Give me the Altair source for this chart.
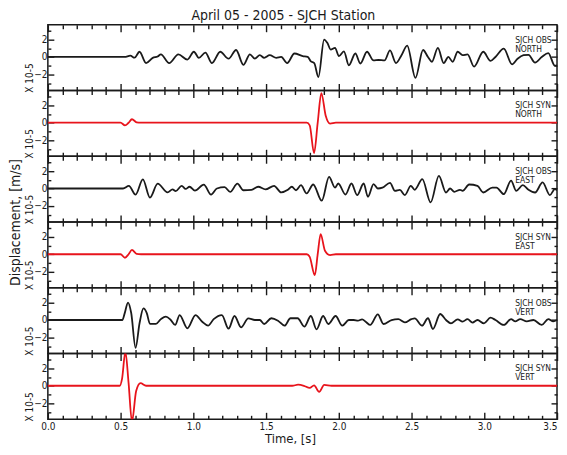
import altair as alt
import pandas as pd

FONT = "Liberation Sans Narrow, DejaVu Sans Condensed, sans-serif"
INK = "#1a1a1a"
RED = "#e8141c"

# ---------------- data ----------------
obs_north_t = [0.0, 0.528, 0.567, 0.596, 0.630, 0.675, 0.721, 0.755, 0.777, 0.834, 0.897, 0.959,
               1.004, 1.038, 1.083, 1.128, 1.185, 1.242, 1.294, 1.344, 1.389, 1.423, 1.457, 1.487,
               1.525, 1.570, 1.604, 1.645, 1.695, 1.752, 1.786, 1.808, 1.831, 1.860, 1.899, 1.922,
               1.944, 1.974, 2.001, 2.035, 2.069, 2.114, 2.148, 2.194, 2.239, 2.273, 2.314, 2.352,
               2.393, 2.431, 2.470, 2.527, 2.579, 2.613, 2.640, 2.681, 2.721, 2.753, 2.783, 2.817,
               2.851, 2.885, 2.930, 2.993, 3.043, 3.077, 3.134, 3.191, 3.229, 3.270, 3.304, 3.349,
               3.395, 3.440, 3.485, 3.500]
obs_north_v = [0.0, 0.0, 0.15, -0.08, 0.6, -0.7, -0.1, 0.05, 0.3, -0.7, 0.3, -0.3,
               0.6, -0.1, 0.5, -0.7, 0.6, -0.2, 0.8, -0.9, 0.3, -0.2, 0.2, -0.1,
               0.2, -0.1, 0.0, -0.7, 0.4, 0.1, 0.0, -0.5, -0.7, -2.3, 2.0, 1.6,
               0.85, 1.05, 0.1, 0.65, -0.95, 0.4, -0.75, 0.6, -0.4, -0.35, -0.4, 0.75,
               -0.7, 0.2, 1.3, -2.4, 0.8, 0.0, -0.55, 1.05, -0.7, 0.0, -0.55, 0.6,
               0.2, 0.3, -1.1, 0.6, -0.45, 0.0, 0.95, -0.85, -0.2, 0.2, 0.25, -0.65,
               0.0, 0.45, -1.0, -0.95]

syn_north_t = [0.0, 0.50, 0.53, 0.555, 0.578, 0.61, 0.64, 1.78, 1.80, 1.83, 1.855, 1.88, 1.91, 1.94, 1.98, 3.5]
syn_north_v = [0.0, 0.0, -0.3, 0.0, 0.4, 0.05, 0.0, 0.0, -0.3, -3.5, 0.0, 3.4, 0.8, -0.1, 0.0, 0.0]

obs_east_t = [0.0, 0.517, 0.557, 0.603, 0.653, 0.702, 0.755, 0.823, 0.857, 0.879, 0.920, 0.947,
              0.974, 1.011, 1.072, 1.122, 1.162, 1.215, 1.253, 1.303, 1.344, 1.400, 1.446, 1.496,
              1.555, 1.604, 1.650, 1.677, 1.706, 1.740, 1.779, 1.824, 1.883, 1.933, 1.974, 1.996,
              2.046, 2.087, 2.126, 2.171, 2.200, 2.239, 2.268, 2.300, 2.352, 2.386, 2.420, 2.454,
              2.495, 2.522, 2.574, 2.631, 2.688, 2.737, 2.765, 2.794, 2.833, 2.851, 2.896, 2.953,
              2.993, 3.055, 3.084, 3.134, 3.184, 3.220, 3.265, 3.304, 3.349, 3.401, 3.451, 3.485,
              3.500]
obs_east_v = [0.0, 0.0, 0.3, -0.7, 1.05, -1.05, 0.55, -0.45, -0.1, -0.3, 0.3, -0.05,
              0.2, -0.25, 0.45, -0.7, 0.0, 0.15, -0.4, 0.55, -0.2, -0.15, 0.2, -0.1,
              0.3, -0.45, -0.15, 0.2, -0.2, 0.38, -0.57, 0.46, -1.4, 1.33, 0.1, 0.57,
              -0.69, 0.57, -0.76, 0.57, -0.95, 0.5, 0.0, 0.1, 0.65, -0.27, -0.15, -0.76,
              0.3, -0.15, 1.07, -1.6, 1.45, -0.46, 0.0, -0.38, -0.15, -0.27, 0.46, 0.3,
              -0.46, 0.1, 0.1, -0.65, 0.91, -0.27, 0.38, -0.15, -0.46, 0.69, -0.76, -0.08,
              -0.2]

syn_east_t = [0.0, 0.50, 0.53, 0.555, 0.578, 0.61, 0.64, 1.78, 1.80, 1.835, 1.855, 1.875, 1.905, 1.94, 1.98, 3.5]
syn_east_v = [0.0, 0.0, -0.4, 0.0, 0.5, 0.05, 0.0, 0.0, -0.3, -2.4, 0.0, 2.3, 0.4, -0.1, 0.0, 0.0]

obs_vert_t = [0.0, 0.512, 0.528, 0.551, 0.573, 0.603, 0.630, 0.657, 0.680, 0.702, 0.743, 0.777,
              0.811, 0.845, 0.875, 0.906, 0.959, 1.015, 1.061, 1.101, 1.140, 1.196, 1.242, 1.283,
              1.328, 1.378, 1.423, 1.457, 1.487, 1.536, 1.582, 1.627, 1.668, 1.717, 1.763, 1.808,
              1.847, 1.892, 1.928, 1.978, 2.024, 2.069, 2.103, 2.132, 2.160, 2.187, 2.216, 2.268,
              2.307, 2.363, 2.409, 2.454, 2.499, 2.522, 2.572, 2.613, 2.647, 2.697, 2.737, 2.771,
              2.817, 2.851, 2.885, 2.919, 2.953, 2.998, 3.043, 3.077, 3.134, 3.184, 3.213, 3.247,
              3.292, 3.338, 3.395, 3.440, 3.474, 3.500]
obs_vert_v = [0.0, 0.0, 0.76, 2.0, 0.8, -3.2, -0.4, 1.33, 0.8, -0.45, -0.45, 0.1,
              0.4, 0.0, -0.57, 0.57, -0.95, 0.57, -0.2, -0.65, 0.1, 0.57, -1.0, 0.46,
              -0.84, 0.19, 0.0, 0.0, -0.46, 0.2, -0.08, -0.65, 0.2, 0.2, -0.76, 0.46,
              -1.07, 0.46, -0.46, 0.46, -0.65, 0.0, 0.0, -0.08, 0.08, -0.23, -0.57, 0.65,
              -0.46, 0.0, 0.1, -0.27, 0.1, 0.19, -0.65, 0.2, -1.03, 0.69, 0.0, -0.38,
              0.08, -0.19, 0.1, -0.3, 0.0, -0.38, 0.27, 0.0, -0.57, 0.1, -0.15, 0.1,
              -0.15, 0.0, -0.57, 0.1, -0.15, 0.0]

syn_vert_t = [0.0, 0.494, 0.510, 0.533, 0.555, 0.578, 0.607, 0.637, 0.675, 1.68, 1.72, 1.76,
              1.80, 1.83, 1.865, 1.90, 1.95, 3.5]
syn_vert_v = [0.0, 0.0, 0.8, 3.9, 0.3, -4.1, -0.6, 0.3, 0.0, 0.0, 0.12, 0.0,
              -0.25, 0.05, -0.7, 0.1, 0.0, 0.0]

labels_top = ["SJCH OBS", "SJCH SYN", "SJCH OBS", "SJCH SYN", "SJCH OBS", "SJCH SYN"]
labels_bot = ["NORTH", "NORTH", "EAST", "EAST", "VERT", "VERT"]

x_major = [0.0, 0.5, 1.0, 1.5, 2.0, 2.5, 3.0, 3.5]
x_minor = [0.1, 0.2, 0.3, 0.4, 0.6, 0.7, 0.8, 0.9, 1.1, 1.2, 1.3, 1.4, 1.6, 1.7, 1.8, 1.9,
           2.1, 2.2, 2.3, 2.4, 2.6, 2.7, 2.8, 2.9, 3.1, 3.2, 3.3, 3.4]
y_major = [-2, 0, 2]
y_minor = [-3, -1, 1, 3]

# ---------------- layout ----------------
W = 511
H = 66
XDOM = [0, 3.5]
YDOM = [-3.85, 3.7]


def panel(ts, vs, color, l1, l2, bottom=False, main_ylabel=False):
    df = pd.DataFrame({"t": ts, "v": vs})
    dot = pd.DataFrame({"t": [1.0], "v": [0.0]})
    xs = alt.Scale(domain=XDOM, nice=False, zero=False)
    ys = alt.Scale(domain=YDOM, nice=False, zero=False)
    common = dict(domain=False, grid=False, tickColor=INK, tickWidth=1.4)

    if bottom:
        ax_b_major = alt.Axis(orient="bottom", values=x_major, tickSize=7, offset=-7,
                              labels=True, format=".1f", labelFontSize=10, labelPadding=2,
                              labelFlush=False,
                              labelAlign={"condition": {"test": "datum.value >= 3.5",
                                                        "value": "right"},
                                          "value": "center"},
                              title="Time, [s]", titleFontSize=13, titlePadding=1,
                              titleX=243, **common)
    else:
        ax_b_major = alt.Axis(orient="bottom", values=x_major, tickSize=7, offset=-7,
                              labels=False, title=None, **common)
    ax_b_minor = alt.Axis(orient="bottom", values=x_minor, tickSize=4, offset=-4,
                          labels=False, title=None, **common)
    ax_t_major = alt.Axis(orient="top", values=x_major, tickSize=7, offset=-7,
                          labels=False, title=None, **common)
    ax_t_minor = alt.Axis(orient="top", values=x_minor, tickSize=4, offset=-4,
                          labels=False, title=None, **common)

    if main_ylabel:
        ay_l_major = alt.Axis(orient="left", values=y_major, tickSize=6, offset=-6,
                              labels=True, labelFontSize=10, labelPadding=1,
                              title="Displacement, [m/s]", titleFontSize=14,
                              titleX=-38, titleY=H, titleAngle=270, titleAlign="center",
                              titleBaseline="middle", **common)
    else:
        ay_l_major = alt.Axis(orient="left", values=y_major, tickSize=6, offset=-6,
                              labels=True, labelFontSize=10, labelPadding=1,
                              title=None, **common)
    ay_l_minor = alt.Axis(orient="left", values=y_minor, tickSize=3, offset=-3,
                          labels=False, title="X 10-5", titleFontSize=10,
                          titleX=-21, titleY=53, titleAngle=270, titleAlign="center",
                          titleBaseline="middle", **common)
    ay_r_major = alt.Axis(orient="right", values=y_major, tickSize=6, offset=-6,
                          labels=False, title=None, **common)
    ay_r_minor = alt.Axis(orient="right", values=y_minor, tickSize=3, offset=-3,
                          labels=False, title=None, **common)

    line = alt.Chart(df).mark_line(color=color, strokeWidth=1.8, interpolate="monotone",
                                   clip=True).encode(
        x=alt.X("t:Q", scale=xs, axis=ax_b_major),
        y=alt.Y("v:Q", scale=ys, axis=ay_l_major),
    )
    g1 = alt.Chart(dot).mark_point(opacity=0).encode(
        x=alt.X("t:Q", scale=xs, axis=ax_b_minor),
        y=alt.Y("v:Q", scale=ys, axis=ay_l_minor),
    )
    g2 = alt.Chart(dot).mark_point(opacity=0).encode(
        x=alt.X("t:Q", scale=xs, axis=ax_t_major),
        y=alt.Y("v:Q", scale=ys, axis=ay_r_major),
    )
    g3 = alt.Chart(dot).mark_point(opacity=0).encode(
        x=alt.X("t:Q", scale=xs, axis=ax_t_minor),
        y=alt.Y("v:Q", scale=ys, axis=ay_r_minor),
    )
    lab = alt.Chart(pd.DataFrame({"lab": [l1 + "|" + l2]})).mark_text(
        align="left", baseline="middle", fontSize=8.5, font=FONT, lineBreak="|",
        lineHeight=9, color=INK
    ).encode(x=alt.value(469), y=alt.value(15), text="lab:N")

    return alt.layer(line, g1, g2, g3, lab).resolve_axis(
        x="independent", y="independent").properties(width=W, height=H)


series = [
    (obs_north_t, obs_north_v, INK),
    (syn_north_t, syn_north_v, RED),
    (obs_east_t, obs_east_v, INK),
    (syn_east_t, syn_east_v, RED),
    (obs_vert_t, obs_vert_v, INK),
    (syn_vert_t, syn_vert_v, RED),
]

panels = []
for i, (ts, vs, col) in enumerate(series):
    panels.append(panel(ts, vs, col, labels_top[i], labels_bot[i],
                        bottom=(i == 5), main_ylabel=(i == 2)))

chart = alt.vconcat(*panels, spacing=0, bounds="flush").properties(
    title=alt.TitleParams("April 05  -  2005  -  SJCH Station", fontSize=14, font=FONT,
                          fontWeight="normal", anchor="middle", offset=0, color=INK),
    padding={"left": 0, "top": 0, "right": 0, "bottom": 0},
).configure_view(stroke=INK, strokeWidth=1.5).configure_axis(
    labelFont=FONT, titleFont=FONT, titleFontWeight="normal",
    labelColor=INK, titleColor=INK,
)

chart.save("out.html", embed_options={"renderer": "svg", "actions": False})
